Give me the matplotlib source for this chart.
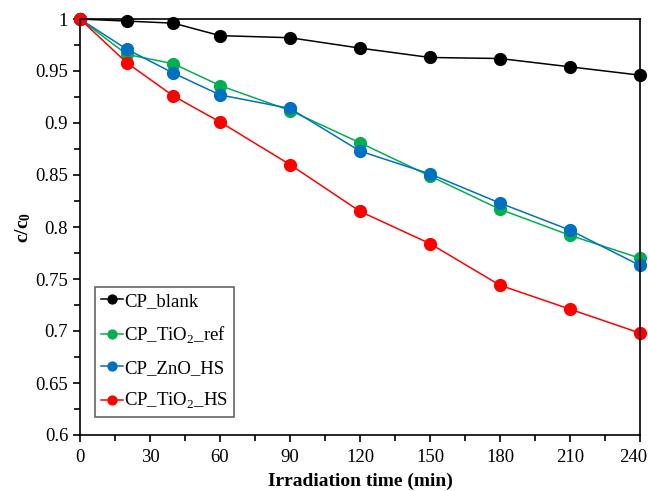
import matplotlib
matplotlib.use("Agg")
import matplotlib.pyplot as plt
from matplotlib.ticker import MultipleLocator
import matplotlib.transforms as mtransforms

plt.rcParams['font.family'] = ['Liberation Serif', 'DejaVu Serif']
plt.rcParams['mathtext.fontset'] = 'custom'
plt.rcParams['mathtext.rm'] = 'Liberation Serif'
plt.rcParams['mathtext.bf'] = 'Liberation Serif:bold'

time = [0, 20, 40, 60, 90, 120, 150, 180, 210, 240]
cp_blank = [1.0, 0.998, 0.996, 0.984, 0.982, 0.972, 0.963, 0.962, 0.954, 0.946]
cp_tio2_ref = [1.0, 0.966, 0.957, 0.936, 0.912, 0.881, 0.849, 0.817, 0.792, 0.770]
cp_zno_hs = [1.0, 0.971, 0.948, 0.927, 0.914, 0.873, 0.851, 0.823, 0.797, 0.763]
cp_tio2_hs = [1.0, 0.958, 0.926, 0.901, 0.860, 0.815, 0.784, 0.744, 0.721, 0.698]

labels = ['CP_blank', r'CP_TiO$_2$_ref', 'CP_ZnO_HS', r'CP_TiO$_2$_HS']
colors = ['#000000', '#00B050', '#0070C0', '#FF0000']
series = [cp_blank, cp_tio2_ref, cp_zno_hs, cp_tio2_hs]

fig = plt.figure(figsize=(6.48, 4.91), dpi=100)
ax = fig.add_axes([80/648, 1-435/491, 560/648, 416/491])

for s, c, l in zip(series, colors, labels):
    ax.plot(time, s, color=c, marker='o', markersize=8.5, linewidth=1.1,
            label=l, clip_on=False)

ax.set_xlim(0, 240)
ax.set_ylim(0.6, 1.0)
ax.xaxis.set_major_locator(MultipleLocator(30))
ax.xaxis.set_minor_locator(MultipleLocator(15))
ax.yaxis.set_major_locator(MultipleLocator(0.05))
ax.yaxis.set_minor_locator(MultipleLocator(0.025))
ax.yaxis.set_major_formatter(matplotlib.ticker.FuncFormatter(lambda v, p: ('%g' % round(v, 3))))
ax.tick_params(which='both', direction='out', top=False, right=False, labelsize=13.5, width=1.2)
ax.tick_params(which='major', length=5)
ax.tick_params(which='minor', length=4)
ax.tick_params(axis='x', pad=5)
for sp in ax.spines.values():
    sp.set_linewidth(1.2)

ax.set_xlabel('Irradiation time (min)', fontsize=14, fontweight='bold', labelpad=5)
ax.set_ylabel(r'$\mathbf{c/c_0}$', fontsize=14, labelpad=2)

leg = ax.legend(loc='lower left', bbox_to_anchor=(0.027, 0.043), fontsize=13.5,
                frameon=True, fancybox=False, edgecolor='#404040',
                handlelength=1.2, handletextpad=0.05, labelspacing=0.76,
                borderpad=0.3, borderaxespad=0.0, markerscale=0.75)
leg.get_frame().set_linewidth(1.2)

fig.canvas.draw()
for t in ax.xaxis.get_major_ticks():
    if abs(t.get_loc() - 240) < 1e-6:
        t.label1.set_transform(t.label1.get_transform() +
                               mtransforms.ScaledTranslation(-7/100, 0, fig.dpi_scale_trans))

fig.savefig('out.png', dpi=100)
